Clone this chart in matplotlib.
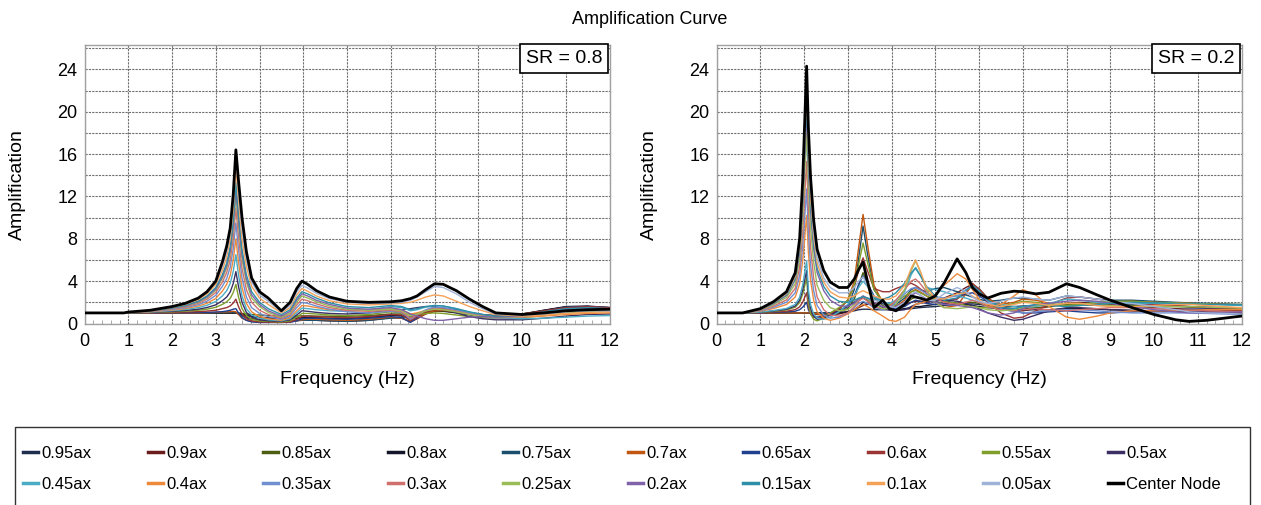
import matplotlib
matplotlib.use('Agg')
import matplotlib.pyplot as plt
from matplotlib.ticker import MultipleLocator
from matplotlib.lines import Line2D
from matplotlib.patches import Rectangle

plt.rcParams['font.family'] = ['Liberation Sans', 'DejaVu Sans']

# ---------------- data ----------------
freq_sr08 = [0, 0.9, 1.0, 1.5, 2.0, 2.3, 2.6, 2.8, 3.0, 3.15,
             3.25, 3.33, 3.40, 3.46, 3.52, 3.6, 3.7, 3.82, 4.0, 4.2,
             4.5, 4.7, 4.85, 4.97, 5.1, 5.3, 5.6, 6.0, 6.5, 7.0,
             7.25, 7.45, 7.6, 7.8, 8.0, 8.2, 8.5, 8.8, 9.1, 9.4,
             10.0, 10.5, 11.0, 11.5, 12.0]

freq_sr02 = [0, 0.6, 1.0, 1.3, 1.6, 1.8, 1.9, 1.97, 2.02, 2.06,
             2.1, 2.15, 2.22, 2.3, 2.45, 2.6, 2.8, 3.0, 3.15, 3.25,
             3.35, 3.45, 3.6, 3.8, 3.95, 4.1, 4.3, 4.45, 4.55, 4.65,
             4.8, 5.0, 5.2, 5.5, 5.7, 5.85, 6.0, 6.2, 6.5, 6.8,
             7.0, 7.3, 7.6, 8.0, 8.3, 8.7, 9.0, 9.5, 10.0, 10.5,
             10.8, 11.2, 11.6, 12.0]

series_names = ['0.95ax', '0.9ax', '0.85ax', '0.8ax', '0.75ax', '0.7ax', '0.65ax',
                '0.6ax', '0.55ax', '0.5ax', '0.45ax', '0.4ax', '0.35ax', '0.3ax',
                '0.25ax', '0.2ax', '0.15ax', '0.1ax', '0.05ax', 'Center Node']

series_colors = ['#1f2d4e', '#6b1c1c', '#4d5e12', '#15152a', '#1c4f6e', '#c0560f', '#1f3f8f',
                 '#9a3535', '#7f9e2a', '#3b2f63', '#4bacc6', '#ee8a3c', '#6f8fd0', '#d0706e',
                 '#9bbb59', '#7f62a8', '#2e8fa8', '#f4a259', '#9fb3d8', '#000000']

# SR = 0.8
sr08_095 = [1.0]*14 + [0.98, 0.9, 0.8, 0.7, 0.6, 0.55, 0.5, 0.5, 0.5, 0.5, 0.5, 0.48, 0.45, 0.45, 0.55, 0.75, 0.7, 0.5, 0.7, 1.0, 1.15, 1.15, 1.0, 0.85, 0.75, 0.7, 0.9, 1.25, 1.55, 1.6, 1.5]
sr08_090 = [1.0]*14 + [0.95, 0.8, 0.6, 0.45, 0.35, 0.3, 0.25, 0.25, 0.3, 0.35, 0.35, 0.3, 0.25, 0.2, 0.3, 0.55, 0.5, 0.2, 0.45, 0.9, 1.15, 1.2, 1.05, 0.85, 0.7, 0.6, 0.8, 1.2, 1.55, 1.6, 1.4]
sr08_085 = [1.0]*14 + [0.98, 0.95, 0.9, 0.85, 0.8, 0.75, 0.7, 0.7, 0.7, 0.72, 0.72, 0.7, 0.68, 0.68, 0.75, 0.9, 0.9, 0.85, 0.95, 1.1, 1.2, 1.2, 1.05, 0.9, 0.8, 0.75, 0.9, 1.2, 1.45, 1.5, 1.45]
sr08_080 = [1.0]*14 + [0.95, 0.85, 0.75, 0.65, 0.55, 0.5, 0.45, 0.45, 0.5, 0.55, 0.55, 0.55, 0.5, 0.5, 0.6, 0.8, 0.75, 0.6, 0.8, 1.1, 1.25, 1.25, 1.05, 0.85, 0.7, 0.65, 0.85, 1.25, 1.6, 1.65, 1.5]
sr08_075 = [1.0, 1.0, 1.0, 1.0, 1.0, 1.0, 1.0, 1.0, 1.02, 1.03, 1.04, 1.05, 1.05, 1.03,
            0.9, 0.7, 0.5, 0.4, 0.3, 0.25, 0.2, 0.2, 0.25, 0.3, 0.3, 0.3, 0.25, 0.2, 0.3, 0.5, 0.55, 0.6, 0.8, 1.1, 1.3, 1.3, 1.1, 0.85, 0.65, 0.55, 0.75, 1.15, 1.55, 1.6, 1.45]
sr08_070 = [1.0, 1.0, 1.0, 1.0, 1.0, 1.0, 1.0, 1.02, 1.05, 1.08, 1.1, 1.12, 1.15, 1.1,
            0.85, 0.5, 0.3, 0.2, 0.15, 0.12, 0.12, 0.15, 0.25, 0.35, 0.4, 0.4, 0.35, 0.3, 0.4, 0.6, 0.5, 0.15, 0.45, 0.95, 1.2, 1.25, 1.1, 0.9, 0.75, 0.65, 0.8, 1.1, 1.45, 1.55, 1.45]
sr08_065 = [1.0, 1.0, 1.0, 1.01, 1.02, 1.02, 1.04, 1.05, 1.08, 1.12, 1.18, 1.25, 1.35, 1.4,
            1.0, 0.55, 0.3, 0.15, 0.1, 0.1, 0.1, 0.12, 0.25, 0.45, 0.5, 0.5, 0.45, 0.4, 0.5, 0.65, 0.55, 0.1, 0.5, 1.2, 1.45, 1.45, 1.3, 1.05, 0.85, 0.7, 0.85, 1.15, 1.5, 1.6, 1.5]
sr08_060 = [1.0, 1.0, 1.0, 1.02, 1.05, 1.08, 1.12, 1.17, 1.25, 1.4, 1.5, 1.66, 1.93, 2.3,
            1.6, 0.9, 0.45, 0.25, 0.15, 0.12, 0.1, 0.15, 0.4, 0.65, 0.7, 0.65, 0.6, 0.55, 0.65, 0.85, 0.8, 0.3, 0.6, 1.1, 1.3, 1.3, 1.15, 0.95, 0.8, 0.75, 0.9, 1.2, 1.5, 1.6, 1.5]
sr08_055 = [1.0, 1.0, 1.01, 1.04, 1.11, 1.16, 1.25, 1.35, 1.53, 1.8, 2.05, 2.37, 2.93, 3.7,
            2.5, 1.4, 0.75, 0.4, 0.25, 0.2, 0.15, 0.25, 0.6, 0.95, 0.95, 0.9, 0.8, 0.75, 0.85, 1.1, 1.0, 0.8, 0.85, 0.95, 1.0, 0.95, 0.8, 0.65, 0.55, 0.5, 0.55, 0.75, 1.0, 1.15, 1.15]
sr08_050 = [1.0, 1.0, 1.02, 1.06, 1.15, 1.23, 1.35, 1.51, 1.76, 2.15, 2.5, 2.97, 3.78, 4.9,
            3.5, 2.0, 1.05, 0.6, 0.35, 0.25, 0.2, 0.35, 0.8, 1.2, 1.15, 1.05, 0.95, 0.9, 1.0, 1.3, 1.3, 1.4, 1.5, 1.6, 1.6, 1.4, 1.0, 0.65, 0.45, 0.35, 0.35, 0.5, 0.7, 0.85, 0.9]
sr08_045 = [1.0, 1.0, 1.03, 1.09, 1.21, 1.32, 1.5, 1.72, 2.07, 2.6, 3.1, 3.78, 4.93, 6.5,
            4.6, 2.6, 1.4, 0.8, 0.5, 0.35, 0.25, 0.45, 1.0, 1.45, 1.4, 1.3, 1.2, 1.15, 1.3, 1.6, 1.5, 1.2, 1.3, 1.55, 1.7, 1.65, 1.4, 1.05, 0.75, 0.55, 0.45, 0.5, 0.6, 0.7, 0.75]
sr08_040 = [1.0, 1.0, 1.03, 1.11, 1.27, 1.41, 1.64, 1.91, 2.37, 3.05, 3.7, 4.54, 6.0, 8.0,
            5.8, 3.4, 1.9, 1.1, 0.65, 0.45, 0.3, 0.55, 1.2, 1.7, 1.65, 1.5, 1.3, 1.2, 1.25, 1.4, 1.3, 0.9, 1.0, 1.25, 1.4, 1.35, 1.15, 0.9, 0.7, 0.6, 0.6, 0.7, 0.85, 0.95, 1.0]
sr08_035 = [1.0, 1.0, 1.04, 1.14, 1.33, 1.49, 1.77, 2.1, 2.66, 3.5, 4.25, 5.3, 7.07, 9.5,
            7.0, 4.3, 2.5, 1.5, 0.95, 0.65, 0.4, 0.7, 1.5, 2.0, 1.9, 1.65, 1.35, 1.1, 1.0, 1.15, 1.05, 0.4, 0.8, 1.3, 1.55, 1.5, 1.25, 0.95, 0.7, 0.5, 0.6, 0.95, 1.3, 1.4, 1.25]
sr08_030 = [1.0, 1.0, 1.05, 1.16, 1.39, 1.57, 1.9, 2.29, 2.93, 3.9, 4.8, 6.01, 8.07, 10.9,
            8.2, 5.2, 3.2, 2.0, 1.25, 0.85, 0.5, 0.85, 1.75, 2.3, 2.15, 1.85, 1.5, 1.25, 1.15, 1.25, 1.1, 0.5, 0.8, 1.2, 1.4, 1.35, 1.15, 0.9, 0.7, 0.55, 0.6, 0.9, 1.2, 1.3, 1.2]
sr08_025 = [1.0, 1.0, 1.06, 1.18, 1.43, 1.64, 2.01, 2.44, 3.16, 4.25, 5.25, 6.62, 8.93, 12.1,
            9.3, 6.1, 3.9, 2.4, 1.6, 1.05, 0.6, 1.0, 2.0, 2.6, 2.4, 2.05, 1.65, 1.35, 1.25, 1.35, 1.2, 0.7, 0.9, 1.2, 1.35, 1.3, 1.1, 0.85, 0.65, 0.55, 0.65, 0.95, 1.25, 1.35, 1.3]
sr08_020 = [1.0, 1.0, 1.06, 1.19, 1.45, 1.67, 2.06, 2.51, 3.26, 4.4, 5.45, 6.87, 9.28, 12.6,
            9.8, 6.5, 4.2, 2.7, 1.8, 1.2, 0.7, 1.15, 2.2, 2.8, 2.6, 2.2, 1.8, 1.45, 1.35, 1.5, 1.3, 0.9, 0.7, 0.45, 0.3, 0.3, 0.45, 0.6, 0.65, 0.6, 0.7, 1.0, 1.3, 1.4, 1.3]
sr08_015 = [1.0, 1.0, 1.06, 1.2, 1.48, 1.71, 2.12, 2.6, 3.4, 4.6, 5.7, 7.22, 9.78, 13.3,
            10.4, 7.0, 4.6, 3.0, 2.0, 1.4, 0.85, 1.3, 2.4, 3.0, 2.8, 2.4, 1.95, 1.6, 1.5, 1.7, 1.6, 1.3, 1.4, 1.6, 1.7, 1.65, 1.4, 1.1, 0.85, 0.7, 0.8, 1.1, 1.4, 1.5, 1.4]
sr08_010 = [1.0, 1.0, 1.07, 1.22, 1.54, 1.8, 2.26, 2.79, 3.69, 5.0, 6.3, 7.98, 10.85, 14.8,
            11.7, 8.0, 5.4, 3.5, 2.4, 1.8, 1.0, 1.5, 2.7, 3.3, 3.05, 2.6, 2.15, 1.85, 1.75, 1.85, 1.9, 2.0, 2.2, 2.5, 2.7, 2.6, 2.1, 1.6, 1.2, 0.85, 0.7, 0.8, 0.95, 1.05, 1.1]
sr08_005 = [1.0, 1.0, 1.07, 1.24, 1.58, 1.86, 2.36, 2.94, 3.9, 5.4, 6.8, 8.5, 11.6, 15.9,
            12.6, 8.9, 6.1, 3.9, 2.7, 2.1, 1.1, 1.7, 3.0, 3.6, 3.35, 2.85, 2.35, 2.0, 1.9, 1.95, 2.0, 2.2, 2.5, 3.0, 3.5, 3.4, 2.8, 2.0, 1.4, 0.9, 0.8, 0.9, 1.1, 1.2, 1.2]
sr08_center = [1.0, 1.0, 1.08, 1.25, 1.6, 1.9, 2.4, 3.0, 4.0, 5.8, 7.3, 9.0, 12.2, 16.4,
               13.5, 10.0, 6.8, 4.3, 3.0, 2.4, 1.2, 2.0, 3.3, 4.0, 3.7, 3.1, 2.5, 2.1, 2.0, 2.05, 2.15, 2.35, 2.6, 3.2, 3.75, 3.7, 3.1, 2.3, 1.6, 1.0, 0.85, 1.0, 1.2, 1.3, 1.35]

# SR = 0.2
sr02_095 = [1.0]*10 + [1.0, 1.0, 1.0, 1.0, 1.0, 1.0, 1.05, 1.1, 1.2, 1.3, 1.35, 1.35, 1.3, 1.3, 1.3, 1.3, 1.35, 1.4, 1.45, 1.5, 1.55, 1.6, 1.7, 1.8, 1.85, 1.85, 1.8, 1.7, 1.6, 1.6, 1.65, 1.7, 1.75, 1.8, 1.8, 1.8, 1.8, 1.75, 1.7, 1.65, 1.6, 1.55, 1.5, 1.45]
sr02_090 = [1.0]*10 + [1.0, 0.95, 0.9, 0.85, 0.8, 0.8, 0.9, 1.1, 1.3, 1.5, 1.7, 1.8, 1.9, 1.9, 1.8, 1.7, 1.8, 2.0, 2.1, 2.1, 2.1, 2.2, 2.4, 2.9, 3.4, 3.7, 3.3, 2.4, 1.6, 1.2, 1.2, 1.4, 1.6, 1.9, 2.0, 1.9, 1.8, 1.6, 1.5, 1.4, 1.35, 1.3, 1.25, 1.2]
sr02_085 = [1.0]*10 + [1.0, 1.0, 0.95, 0.9, 0.85, 0.9, 1.1, 1.4, 2.3, 3.6, 4.8, 3.9, 2.4, 1.7, 1.4, 1.4, 1.8, 2.3, 2.5, 2.4, 2.2, 2.0, 1.9, 1.9, 2.0, 2.0, 1.9, 1.7, 1.5, 1.4, 1.4, 1.5, 1.6, 1.8, 1.8, 1.7, 1.7, 1.7, 1.65, 1.6, 1.55, 1.5, 1.45, 1.4]
sr02_080 = [1.0]*10 + [1.0, 1.0, 1.0, 1.0, 1.0, 1.0, 1.0, 1.1, 1.3, 1.6, 2.0, 1.9, 1.6, 1.4, 1.3, 1.3, 1.4, 1.5, 1.6, 1.6, 1.7, 1.8, 1.9, 1.9, 1.8, 1.7, 1.6, 1.5, 1.4, 1.3, 1.3, 1.3, 1.3, 1.4, 1.4, 1.35, 1.3, 1.25, 1.2, 1.15, 1.1, 1.05, 1.0, 0.95]
sr02_075 = [1.0]*10 + [1.0, 1.0, 1.0, 1.0, 1.0, 1.0, 1.2, 1.6, 3.2, 6.2, 9.2, 6.6, 3.2, 2.0, 1.7, 1.8, 2.4, 3.2, 3.4, 3.2, 3.0, 3.3, 3.4, 3.0, 2.7, 2.5, 2.3, 2.1, 2.2, 2.4, 2.4, 2.3, 2.2, 2.6, 2.5, 2.3, 2.2, 2.2, 2.1, 2.0, 1.95, 1.9, 1.85, 1.8]
sr02_070 = [1.0]*10 + [1.0, 1.0, 1.0, 0.9, 0.8, 0.9, 1.3, 2.2, 4.0, 7.2, 10.3, 7.5, 3.6, 2.0, 1.6, 1.6, 2.2, 3.0, 3.2, 3.0, 2.6, 2.0, 1.5, 1.7, 2.8, 3.7, 3.2, 2.3, 1.8, 2.0, 2.3, 2.2, 1.9, 1.6, 1.7, 1.9, 2.0, 2.1, 2.0, 1.95, 1.9, 1.85, 1.8, 1.75]
sr02_065 = [1.0, 1.0, 1.02, 1.05, 1.09, 1.16, 1.3, 1.54, 1.79, 2.0,
            1.3, 0.9, 0.7, 0.6, 0.7, 0.9, 1.2, 1.7, 2.6, 3.7, 4.5, 3.8, 2.6, 1.9, 1.5, 1.4, 1.6, 2.0, 2.2, 2.1, 1.9, 1.8, 1.9, 2.4, 2.8, 2.9, 2.6, 2.1, 1.6, 1.2, 1.0, 1.0, 1.1, 1.2, 1.1, 1.0, 1.0, 1.1, 1.2, 1.3, 1.35, 1.4, 1.4, 1.4]
sr02_060 = [1.0, 1.0, 1.03, 1.09, 1.16, 1.31, 1.57, 2.02, 2.51, 2.9,
            1.6, 0.9, 0.6, 0.5, 0.6, 0.9, 1.4, 2.2, 3.5, 5.0, 6.2, 5.0, 3.3, 3.0, 3.0, 3.3, 3.6, 3.8, 3.6, 3.3, 2.8, 2.4, 2.2, 2.3, 3.0, 3.8, 3.2, 2.0, 1.0, 0.5, 0.6, 1.2, 1.8, 2.4, 2.5, 2.3, 2.1, 1.9, 1.8, 1.7, 1.6, 1.5, 1.45, 1.4]
sr02_055 = [1.0, 1.0, 1.06, 1.15, 1.28, 1.54, 1.99, 2.77, 3.62, 4.3,
            2.0, 0.9, 0.4, 0.25, 0.5, 1.0, 1.5, 2.2, 3.6, 5.6, 7.6, 5.8, 3.2, 2.1, 1.8, 2.0, 2.6, 3.0, 3.1, 2.9, 2.6, 2.3, 2.1, 1.9, 1.7, 1.6, 1.5, 1.5, 1.6, 1.9, 2.1, 2.0, 1.8, 1.7, 1.8, 2.0, 2.1, 2.1, 2.0, 1.95, 1.9, 1.85, 1.8, 1.8]
sr02_050 = [1.0, 1.0, 1.07, 1.18, 1.34, 1.65, 2.2, 3.14, 4.18, 5.0,
            2.6, 1.4, 0.7, 0.4, 0.5, 0.8, 1.2, 1.6, 2.0, 2.3, 2.4, 2.2, 1.8, 1.5, 1.3, 1.2, 1.3, 1.6, 1.8, 1.9, 2.0, 2.1, 2.2, 2.1, 1.9, 1.7, 1.4, 1.0, 0.6, 0.3, 0.4, 0.8, 1.2, 1.5, 1.5, 1.4, 1.3, 1.2, 1.2, 1.2, 1.15, 1.1, 1.1, 1.05]
sr02_045 = [1.0, 1.0, 1.08, 1.22, 1.42, 1.8, 2.47, 3.63, 4.89, 5.9,
            3.2, 1.8, 0.9, 0.5, 0.4, 0.6, 1.1, 1.8, 2.6, 3.4, 4.0, 3.5, 2.5, 2.0, 1.9, 2.2, 3.0, 4.6, 5.3, 4.6, 3.4, 3.2, 3.0, 2.6, 2.4, 2.2, 2.0, 1.9, 1.8, 1.6, 1.5, 1.6, 1.9, 2.3, 2.2, 2.0, 1.9, 1.9, 1.9, 1.85, 1.8, 1.8, 1.75, 1.7]
sr02_040 = [1.0, 1.0, 1.16, 1.41, 1.79, 2.5, 3.76, 5.93, 8.3, 10.2,
            6.7, 4.1, 2.2, 1.1, 0.5, 0.3, 0.5, 0.9, 1.3, 1.6, 1.8, 1.6, 1.2, 0.7, 0.3, 0.2, 0.6, 1.4, 1.8, 1.9, 2.1, 2.7, 3.6, 4.7, 4.2, 3.2, 2.3, 1.6, 1.8, 2.6, 3.2, 2.7, 1.6, 0.6, 0.4, 0.7, 1.0, 1.2, 1.2, 1.2, 1.25, 1.3, 1.3, 1.3]
sr02_035 = [1.0, 1.0, 1.2, 1.53, 2.01, 2.91, 4.51, 7.27, 10.3, 12.7,
            8.6, 5.5, 3.1, 1.7, 0.8, 0.5, 0.6, 1.0, 1.5, 1.9, 2.1, 1.9, 1.5, 1.3, 1.5, 2.0, 2.8, 3.3, 3.4, 3.2, 2.8, 2.5, 2.4, 2.6, 3.2, 3.5, 3.0, 2.1, 1.4, 1.1, 1.0, 1.1, 1.2, 1.3, 1.3, 1.2, 1.1, 1.0, 1.0, 1.0, 1.0, 0.95, 0.9, 0.85]
sr02_030 = [1.0, 1.0, 1.24, 1.64, 2.23, 3.33, 5.29, 8.66, 12.4, 15.3,
            10.8, 7.2, 4.3, 2.5, 1.3, 0.8, 0.7, 1.0, 1.6, 2.1, 2.4, 2.1, 1.6, 1.4, 1.6, 2.2, 3.2, 4.0, 4.2, 3.8, 3.0, 2.4, 2.0, 1.8, 2.0, 2.2, 2.0, 1.6, 1.3, 1.2, 1.3, 1.4, 1.3, 1.2, 1.3, 1.4, 1.5, 1.5, 1.4, 1.3, 1.25, 1.2, 1.15, 1.1]
sr02_025 = [1.0, 1.0, 1.29, 1.77, 2.46, 3.77, 6.1, 10.1, 14.5, 18.0,
            13.0, 9.0, 5.8, 3.6, 2.2, 1.5, 1.2, 1.3, 1.8, 2.3, 2.6, 2.3, 1.8, 1.4, 1.4, 1.8, 3.2, 5.0, 5.9, 5.0, 3.2, 2.0, 1.5, 1.4, 1.5, 1.6, 1.5, 1.3, 1.2, 1.3, 1.5, 1.7, 1.8, 1.9, 1.9, 1.8, 1.7, 1.6, 1.6, 1.6, 1.6, 1.55, 1.5, 1.45]
sr02_020 = [1.0, 1.0, 1.33, 1.86, 2.65, 4.13, 6.76, 11.3, 16.2, 20.2,
            14.8, 10.6, 7.1, 4.8, 3.1, 2.2, 1.7, 1.6, 1.9, 2.3, 2.6, 2.4, 2.0, 1.6, 1.5, 1.6, 2.0, 2.6, 2.9, 2.7, 2.3, 2.0, 1.8, 1.7, 1.6, 1.5, 1.3, 1.0, 0.8, 1.0, 1.4, 1.8, 1.9, 2.1, 2.2, 2.1, 1.9, 1.6, 1.3, 1.1, 1.0, 1.0, 1.05, 1.1]
sr02_015 = [1.0, 1.0, 1.34, 1.9, 2.72, 4.26, 7.0, 11.7, 16.9, 21.0,
            15.5, 11.2, 7.6, 5.2, 3.5, 2.6, 2.1, 2.0, 2.2, 2.4, 2.5, 2.4, 2.3, 2.3, 2.5, 2.9, 3.8, 4.8, 5.2, 4.6, 3.5, 2.6, 2.2, 2.4, 3.1, 3.6, 3.1, 2.2, 1.5, 1.4, 1.6, 1.8, 1.7, 1.6, 1.7, 1.8, 1.9, 2.0, 1.95, 1.9, 1.85, 1.8, 1.8, 1.75]
sr02_010 = [1.0, 1.0, 1.36, 1.95, 2.81, 4.42, 7.3, 12.3, 17.7, 22.0,
            16.5, 12.0, 8.2, 5.7, 3.9, 3.0, 2.5, 2.4, 2.6, 2.9, 3.1, 2.9, 2.6, 2.3, 2.3, 2.6, 3.6, 5.2, 6.0, 5.0, 3.4, 2.4, 2.3, 2.8, 2.9, 2.6, 2.2, 1.8, 1.6, 1.8, 2.0, 1.9, 1.7, 1.9, 1.9, 1.7, 1.6, 1.6, 1.7, 1.8, 1.8, 1.7, 1.6, 1.5]
sr02_005 = [1.0, 1.0, 1.37, 1.99, 2.89, 4.59, 7.6, 12.8, 18.5, 23.0,
            17.5, 12.8, 8.8, 6.2, 4.3, 3.4, 2.9, 2.9, 3.4, 4.0, 4.4, 3.6, 2.2, 2.0, 1.6, 1.5, 2.0, 2.8, 3.0, 2.7, 2.2, 2.2, 2.8, 3.4, 3.0, 2.5, 2.1, 1.9, 2.1, 2.4, 2.5, 2.3, 2.2, 2.6, 2.5, 2.3, 2.1, 1.9, 1.6, 1.3, 1.1, 1.0, 0.95, 0.9]
sr02_center = [1.0, 1.0, 1.4, 2.05, 3.0, 4.8, 8.0, 13.5, 19.5, 24.3,
               18.5, 13.8, 9.8, 7.0, 5.0, 3.9, 3.4, 3.4, 4.2, 5.1, 5.8, 4.0, 1.5, 2.2, 1.4, 1.2, 1.8, 2.6, 2.5, 2.4, 2.2, 2.6, 3.8, 6.1, 4.8, 3.4, 2.8, 2.4, 2.85, 3.05, 3.0, 2.8, 2.95, 3.75, 3.4, 2.7, 2.2, 1.5, 0.85, 0.35, 0.2, 0.3, 0.5, 0.7]

sr08_values = [sr08_095, sr08_090, sr08_085, sr08_080, sr08_075, sr08_070, sr08_065,
               sr08_060, sr08_055, sr08_050, sr08_045, sr08_040, sr08_035, sr08_030,
               sr08_025, sr08_020, sr08_015, sr08_010, sr08_005, sr08_center]
sr02_values = [sr02_095, sr02_090, sr02_085, sr02_080, sr02_075, sr02_070, sr02_065,
               sr02_060, sr02_055, sr02_050, sr02_045, sr02_040, sr02_035, sr02_030,
               sr02_025, sr02_020, sr02_015, sr02_010, sr02_005, sr02_center]

# ---------------- figure ----------------
W, H = 1261, 505
fig = plt.figure(figsize=(W / 100, H / 100), dpi=100)
ax1 = fig.add_axes([84.5 / W, 1 - 323.5 / H, 525 / W, 278.5 / H])
ax2 = fig.add_axes([716.5 / W, 1 - 323.5 / H, 525 / W, 278.5 / H])


def draw(ax, freq, values, sr_text):
    for name, col, vals in zip(series_names, series_colors, values):
        if name == 'Center Node':
            ax.plot(freq, vals, color=col, lw=2.0, zorder=5)
        else:
            ax.plot(freq, vals, color=col, lw=1.0, zorder=3)
    ax.set_xlim(0, 12)
    ax.set_ylim(0, 26.3)
    ax.xaxis.set_major_locator(MultipleLocator(1))
    ax.xaxis.set_minor_locator(MultipleLocator(0.2))
    ax.yaxis.set_major_locator(MultipleLocator(4))
    ax.yaxis.set_minor_locator(MultipleLocator(2))
    gkw = dict(color='#707070', lw=0.8, ls=(0, (2, 1)))
    ax.grid(which='major', axis='both', **gkw)
    ax.grid(which='minor', axis='y', **gkw)
    ax.set_axisbelow(True)
    ax.tick_params(axis='both', which='major', labelsize=13, length=0)
    ax.tick_params(axis='x', which='major', pad=7)
    ax.tick_params(axis='y', which='major', pad=5)
    ax.tick_params(axis='x', which='minor', direction='in', length=3, color='#999999')
    ax.tick_params(axis='y', which='minor', length=0)
    for sp in ax.spines.values():
        sp.set_color('#a0a0a0')
        sp.set_linewidth(1.0)
    ax.set_xlabel('Frequency (Hz)', fontsize=14, labelpad=15)
    ax.set_ylabel('Amplification', fontsize=14, labelpad=23)
    ax.text(0.986, 0.982, sr_text, transform=ax.transAxes, ha='right', va='top',
            fontsize=14, zorder=10,
            bbox=dict(boxstyle='square,pad=0.3', fc='white', ec='black', lw=1.2))


draw(ax1, freq_sr08, sr08_values, 'SR = 0.8')
draw(ax2, freq_sr02, sr02_values, 'SR = 0.2')

fig.text(650 / W, 1 - 19 / H, 'Amplification Curve', ha='center', va='center', fontsize=13)

# legend frame (its lower edge runs past the bottom of the image)
fig.patches.append(Rectangle((15 / W, -0.05), (1250 - 15) / W, (1 - 427 / H) + 0.05,
                             transform=fig.transFigure, fill=False,
                             edgecolor='#333333', lw=1.0))

handles = [Line2D([0], [0], color=c, lw=2.5) for c in series_colors]
order = []
for i in range(10):
    order += [i, i + 10]
leg = fig.legend([handles[i] for i in order], [series_names[i] for i in order],
                 ncol=10, loc='upper left',
                 bbox_to_anchor=(4 / W, 1 - 427 / H, (1240 - 4) / W, 0.0),
                 mode='expand', frameon=False, fontsize=12,
                 handlelength=0.9, handletextpad=0.2, borderpad=1.15,
                 labelspacing=0.95, borderaxespad=0, columnspacing=1.0)

fig.savefig('out.png', dpi=100)
